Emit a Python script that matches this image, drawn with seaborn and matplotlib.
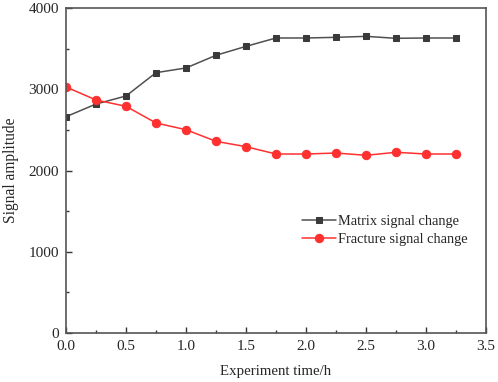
import numpy as np
import pandas as pd
import matplotlib.pyplot as plt
import seaborn as sns
from matplotlib.ticker import MultipleLocator

time_h = [0.0, 0.25, 0.5, 0.75, 1.0, 1.25, 1.5, 1.75, 2.0, 2.25, 2.5, 2.75, 3.0, 3.25]
matrix = [2662, 2818, 2917, 3204, 3262, 3418, 3528, 3631, 3631, 3639, 3651, 3627, 3631, 3631]
fracture = [3028, 2868, 2790, 2585, 2502, 2359, 2293, 2203, 2203, 2215, 2187, 2224, 2203, 2203]

sns.set_style("ticks")
plt.rcParams['font.family'] = ['Liberation Serif', 'DejaVu Serif']
plt.rcParams['font.size'] = 11

fig = plt.figure(figsize=(4.98, 3.82), dpi=100)
ax = fig.add_axes([66/498, 49/382, 420/498, 325/382])

sns.lineplot(x=time_h, y=matrix, ax=ax, color="#505050", marker="s", markersize=5,
             markerfacecolor="#3a3a3a", markeredgecolor="#3a3a3a", linewidth=1.1,
             label="Matrix signal change")
sns.lineplot(x=time_h, y=fracture, ax=ax, color="#ff3030", marker="o", markersize=6,
             markeredgecolor="#ff3030", linewidth=1.1, label="Fracture signal change")

ax.set_xlim(0, 3.5)
ax.set_ylim(0, 4000)
ax.xaxis.set_major_locator(MultipleLocator(0.5))
ax.xaxis.set_minor_locator(MultipleLocator(0.25))
ax.yaxis.set_major_locator(MultipleLocator(1000))
ax.yaxis.set_minor_locator(MultipleLocator(500))
ax.tick_params(which="both", direction="in", top=False, right=False, labelsize=11, color="#333333")
ax.tick_params(axis="x", which="major", pad=5)
ax.tick_params(axis="y", which="major", pad=5)
ax.tick_params(which="major", length=4, width=1)
ax.tick_params(which="minor", length=2.5, width=1)
ax.xaxis.set_major_formatter(plt.FuncFormatter(lambda v, p: f"{v:.1f}"))
for s in ax.spines.values():
    s.set_color("#555555")
    s.set_linewidth(1.2)

ax.set_xlabel("Experiment time/h", fontsize=10.7, labelpad=9)
ax.set_ylabel("Signal amplitude", fontsize=11.2, labelpad=7)
ax.legend(loc="center left", bbox_to_anchor=(0.53, 0.315), frameon=False, fontsize=10.4,
          handlelength=2.35, handletextpad=0.2, labelspacing=0.3)

fig.savefig("out.png", dpi=100)
